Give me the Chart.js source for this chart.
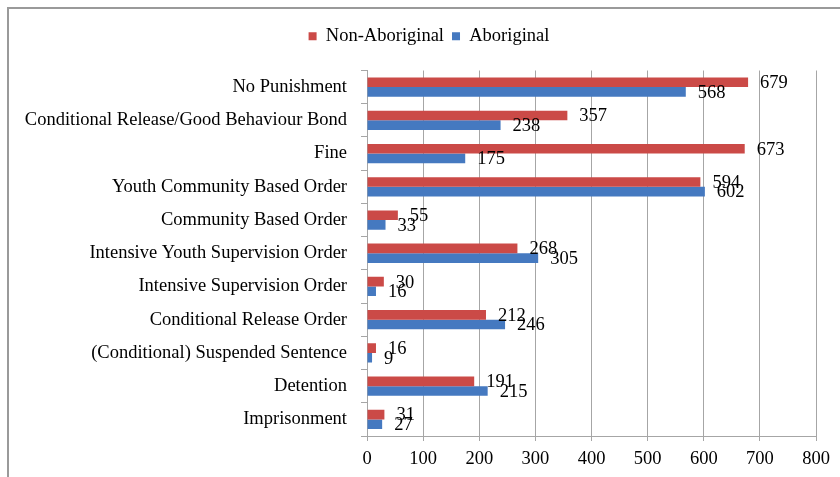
<!DOCTYPE html>
<html>
<head>
<meta charset="utf-8">
<script src="https://cdn.jsdelivr.net/npm/chart.js@4.4.1/dist/chart.umd.min.js"></script>
<style>
  html, body { margin: 0; padding: 0; background: #fff; }
  #wrap { position: relative; width: 840px; height: 477px; }
</style>
</head>
<body>
<div id="wrap"><canvas id="sentenceChart" width="840" height="477"></canvas></div>
<script>
// categories, top to bottom
const categories = [
    'No Punishment',
    'Conditional Release/Good Behaviour Bond',
    'Fine',
    'Youth Community Based Order',
    'Community Based Order',
    'Intensive Youth Supervision Order',
    'Intensive Supervision Order',
    'Conditional Release Order',
    '(Conditional) Suspended Sentence',
    'Detention',
    'Imprisonment'
];
const nonAboriginal = [679, 357, 673, 594, 55, 268, 30, 212, 16, 191, 31];
const aboriginal = [568, 238, 175, 602, 33, 305, 16, 246, 9, 215, 27];
const xTicks = [0, 100, 200, 300, 400, 500, 600, 700, 800];

const FONT = "'Liberation Serif', 'Times New Roman', serif";
const FSIZE = 18.5;
const GRID = '#a6a6a6';

// frame lines on top / left like the original chart area border
const framePlugin = {
    id: 'frame',
    beforeDraw(chart) {
        const ctx = chart.ctx;
        ctx.save();
        ctx.strokeStyle = '#9a9a9a';
        ctx.lineWidth = 2;
        ctx.beginPath();
        ctx.moveTo(8, chart.height);
        ctx.lineTo(8, 8);
        ctx.lineTo(chart.width, 8);
        ctx.stroke();
        ctx.restore();
    }
};

// value labels at the end of each bar
const valueLabels = {
    id: 'valueLabels',
    afterDatasetsDraw(chart) {
        const ctx = chart.ctx;
        ctx.save();
        ctx.font = FSIZE + 'px ' + FONT;
        ctx.fillStyle = '#000';
        ctx.textAlign = 'left';
        ctx.textBaseline = 'middle';
        chart.data.datasets.forEach((ds, i) => {
            chart.getDatasetMeta(i).data.forEach((bar, j) => {
                ctx.fillText(String(ds.data[j]), bar.x + 12, bar.y + 1);
            });
        });
        ctx.restore();
    }
};

new Chart(document.getElementById('sentenceChart'), {
    type: 'bar',
    data: {
        labels: categories,
        datasets: [
            {
                label: 'Non-Aboriginal',
                data: nonAboriginal,
                backgroundColor: '#cb4a47',
                categoryPercentage: 0.58,
                barPercentage: 1.0
            },
            {
                label: 'Aboriginal',
                data: aboriginal,
                backgroundColor: '#4579c0',
                categoryPercentage: 0.58,
                barPercentage: 1.0
            }
        ]
    },
    options: {
        indexAxis: 'y',
        responsive: false,
        animation: false,
        layout: { padding: { left: 18, right: 0, top: 19, bottom: 0 } },
        plugins: {
            legend: {
                position: 'top',
                labels: {
                    font: { family: FONT, size: FSIZE },
                    color: '#000',
                    boxWidth: 8,
                    boxHeight: 8,
                    padding: 8
                }
            },
            tooltip: { enabled: false }
        },
        scales: {
            x: {
                min: 0,
                max: 800,
                afterBuildTicks(scale) {
                    scale.ticks = xTicks.map(v => ({ value: v }));
                },
                afterFit(scale) {
                    scale.height = 41;
                    scale.paddingRight = 24;
                },
                grid: { color: GRID, tickLength: 5, tickColor: GRID },
                border: { color: GRID },
                ticks: { font: { family: FONT, size: FSIZE }, color: '#000', padding: 7 }
            },
            // empty spacer between legend and plot area
            spacer: {
                type: 'linear',
                position: 'top',
                axis: 'x',
                display: true,
                grid: { display: false },
                border: { display: false },
                ticks: { display: false },
                afterFit(scale) {
                    scale.height = 15;
                }
            },
            y: {
                afterFit(scale) {
                    scale.width = 349;
                },
                grid: { drawOnChartArea: false, tickLength: 6, tickColor: GRID, offset: true },
                border: { color: GRID },
                ticks: { font: { family: FONT, size: FSIZE }, color: '#000', padding: 14 }
            }
        }
    },
    plugins: [framePlugin, valueLabels]
});
</script>
</body>
</html>
